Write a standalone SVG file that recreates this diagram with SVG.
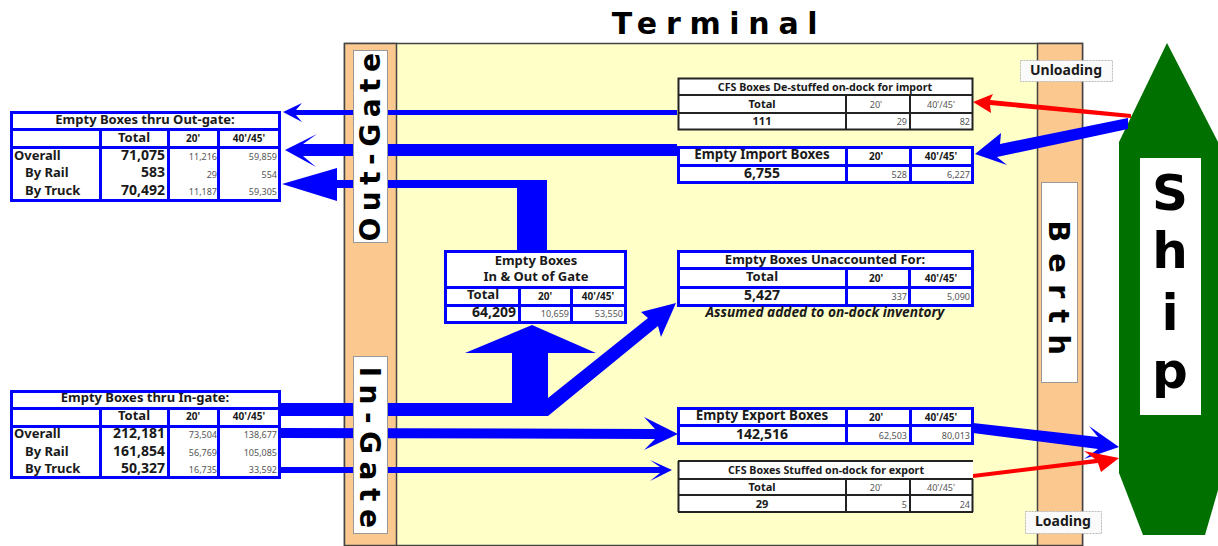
<svg xmlns="http://www.w3.org/2000/svg" width="1218" height="546" viewBox="0 0 1218 546">
<style>
text{font-family:"Noto Sans","DejaVu Sans",sans-serif;fill:#1a1a1a}
.b{font-weight:700}
.t{font-size:13px;font-weight:700;text-anchor:middle}
.big{font-size:14px;font-weight:700}
.tot{font-size:14px;font-weight:700;text-anchor:end}
.th{font-size:13px;font-weight:700;text-anchor:middle}
.nm{font-size:13.400px;font-weight:700;text-anchor:middle}
.cfs{font-size:10.700px;font-weight:700;text-anchor:middle}
.h{font-size:10px;font-weight:700;text-anchor:middle}
.cv{font-size:11px;font-weight:700;text-anchor:middle}
.s{font-size:9px;text-anchor:end;fill:#555}
.sm{font-size:9px;text-anchor:middle;fill:#555}
.l{font-size:13px;font-weight:700}
.r{text-anchor:end}
.m{text-anchor:middle}
.blue{fill:#fff;stroke:#0000ff;stroke-width:3}
.blk{fill:#fff;stroke:#222;stroke-width:2}
.gl{fill:none;stroke:#0000ff;stroke-width:3}
.kl{fill:none;stroke:#222;stroke-width:2}
.ar{fill:#0000ff}
.rd{fill:#ff0000}
.lab{fill:#fff;stroke:#999;stroke-width:1}
.tag{fill:#fafafa;stroke:#bbb;stroke-width:1;stroke-dasharray:2 1}
.gate{font-family:"DejaVu Sans",sans-serif;font-size:28px;font-weight:700;fill:#000;letter-spacing:6.500px;text-anchor:middle}
.ship{font-family:"DejaVu Sans",sans-serif;font-size:50px;font-weight:700;fill:#000;text-anchor:middle}
.ttl{font-family:"DejaVu Sans",sans-serif;font-size:30px;font-weight:700;letter-spacing:8.700px;text-anchor:middle;fill:#000}
</style>
<rect width="1218" height="546" fill="#fff"/>
<text x="719" y="34" class="ttl">Terminal</text>
<g id="terminal">
<rect x="344.500" y="43.500" width="738" height="502" fill="#ffffc8" stroke="#444" stroke-width="1.500"/>
<rect x="344.500" y="43.500" width="52" height="502" fill="#fbc98f" stroke="#444" stroke-width="1.500"/>
<rect x="1037.500" y="43.500" width="45" height="502" fill="#fbc98f" stroke="#444" stroke-width="1.500"/>
</g>
<g id="ship">
<polygon points="1167,43 1119,142 1119,473 1143,535 1205,535 1218,490 1218,142" fill="#007000"/>
<rect x="1140" y="158" width="61" height="257" fill="#fff"/>
<text x="1170" y="210" class="ship">S</text>
<text x="1170" y="268" class="ship">h</text>
<text x="1170" y="330" class="ship">i</text>
<text x="1170" y="388" class="ship">p</text>
</g>
<g id="connectors">
<polygon class="ar" points="283,112 302,103 296,110 677,110 677,115 296,115 302,122"/>
<polygon class="ar" points="285,150 317,134 303,144 677,144 677,156 303,156 316,167"/>
<polygon class="ar" points="282,184 337,168 337,180 547,180 547,252 517,252 517,188 337,188 337,201"/>
<polygon class="ar" points="280,403 512,403 512,353 465,353 532,325 596,353 548,353 548,398 648,318 641,312 676,303 661,337 658,326 548,416 280,416"/>
<polygon class="ar" points="280,428 655,429 644,417 678,434 644,450 655,439 280,438"/>
<polygon class="ar" points="280,467 660,467 650,460 672,470 650,481 660,473 280,473"/>
<polygon class="ar" points="1128,118 1128,129 997,157 1007,165 975,154 1001,133 1000,144"/>
<polygon class="rd" points="1131,114 1131,118 990,105 991,113 973,102 993,94 990,100"/>
<polygon class="ar" points="973,423 973,433 1098,449 1084,459 1119,447 1089,426 1098,437"/>
<polygon class="rd" points="973,474 973,478 1098,463 1101,472 1119,458 1084,451 1095,459"/>
</g>
<g id="out-gate-label"><rect class="lab" x="353.500" y="50.500" width="34" height="192"/><text transform="translate(380,144) rotate(-90)" class="gate">Out-Gate</text></g>
<g id="in-gate-label"><rect class="lab" x="353.500" y="356.500" width="34" height="177"/><text transform="translate(360,451) rotate(90)" class="gate" style="letter-spacing:7.500px">In-Gate</text></g>
<g id="berth"><rect class="lab" x="1041.500" y="182.500" width="36" height="200"/><text transform="translate(1049,293) rotate(90)" class="gate" style="letter-spacing:11px;font-size:29px">Berth</text></g>
<g id="unloading"><rect class="tag" x="1020.500" y="60.500" width="92" height="21"/><text x="1066" y="75" class="t" style="font-size:14px">Unloading</text></g>
<g id="loading"><rect class="tag" x="1025.500" y="511.500" width="76" height="22"/><text x="1063" y="526" class="t" style="font-size:14px">Loading</text></g>
<g id="out-gate-table">
<rect class="blue" x="11.500" y="112.500" width="268" height="88"/>
<path class="gl" d="M11 129.500H280M11 147.500H280M100.500 130V201M168.500 130V201M218.500 130V201"/>
<text x="145" y="124" class="t">Empty Boxes thru Out-gate:</text>
<text x="134" y="142" class="th">Total</text><text x="193" y="142" class="h">20'</text><text x="249" y="142" class="h">40'/45'</text>
<text x="14" y="160" class="l">Overall</text><text x="25" y="177" class="l">By Rail</text><text x="25" y="195" class="l">By Truck</text>
<text x="165" y="160" class="tot">71,075</text><text x="165" y="177" class="tot">583</text><text x="165" y="195" class="tot">70,492</text>
<text x="217" y="160" class="s">11,216</text><text x="217" y="178" class="s">29</text><text x="217" y="195" class="s">11,187</text>
<text x="277" y="160" class="s">59,859</text><text x="277" y="178" class="s">554</text><text x="277" y="195" class="s">59,305</text>
</g>
<g id="in-gate-table">
<rect class="blue" x="11.500" y="391.500" width="268" height="86"/>
<path class="gl" d="M11 408.500H280M11 426.500H280M100.500 409V478M168.500 409V478M218.500 409V478"/>
<text x="145" y="402" class="t">Empty Boxes thru In-gate:</text>
<text x="134" y="420" class="th">Total</text><text x="193" y="420" class="h">20'</text><text x="249" y="420" class="h">40'/45'</text>
<text x="14" y="438" class="l">Overall</text><text x="25" y="456" class="l">By Rail</text><text x="25" y="473" class="l">By Truck</text>
<text x="165" y="438" class="tot">212,181</text><text x="165" y="456" class="tot">161,854</text><text x="165" y="473" class="tot">50,327</text>
<text x="217" y="438" class="s">73,504</text><text x="217" y="456" class="s">56,769</text><text x="217" y="473" class="s">16,735</text>
<text x="277" y="438" class="s">138,677</text><text x="277" y="456" class="s">105,085</text><text x="277" y="473" class="s">33,592</text>
</g>
<g id="in-out-table">
<rect class="blue" x="445.500" y="251.500" width="180" height="71"/>
<path class="gl" d="M445 287.500H626M445 305.500H626M519.500 287V323M571.500 287V323"/>
<text x="536" y="265" class="t">Empty Boxes</text><text x="536" y="281" class="t">In &amp; Out of Gate</text>
<text x="483" y="299" class="th">Total</text><text x="545" y="300" class="h">20'</text><text x="598" y="300" class="h">40'/45'</text>
<text x="516" y="317" class="big r">64,209</text><text x="569" y="317" class="s">10,659</text><text x="623" y="317" class="s">53,550</text>
</g>
<g id="cfs-import-table">
<rect class="blk" x="678.500" y="78.500" width="294" height="51"/>
<path class="kl" d="M678 95H973M678 113H973M846 95V130M910 95V130"/>
<text x="825" y="91" class="cfs">CFS Boxes De-stuffed on-dock for import</text>
<text x="762" y="108" class="cv">Total</text><text x="876" y="108" class="sm">20'</text><text x="941" y="108" class="sm">40'/45'</text>
<text x="762" y="125" class="cv">111</text><text x="907" y="125" class="s">29</text><text x="970" y="125" class="s">82</text>
</g>
<g id="empty-import-table">
<rect class="blue" x="678.500" y="147.500" width="294" height="35"/>
<path class="gl" d="M678 165.500H973M846.500 147V183M910.500 147V183"/>
<text x="762" y="159" class="nm">Empty Import Boxes</text><text x="876" y="160" class="h">20'</text><text x="941" y="160" class="h">40'/45'</text>
<text x="762" y="178" class="big m">6,755</text><text x="907" y="178" class="s">528</text><text x="970" y="178" class="s">6,227</text>
</g>
<g id="unaccounted-table">
<rect class="blue" x="678.500" y="251.500" width="294" height="54"/>
<path class="gl" d="M678 268.500H973M678 287.500H973M846.500 268V306M909.500 268V306"/>
<text x="825" y="264" class="t">Empty Boxes Unaccounted For:</text>
<text x="762" y="281" class="th">Total</text><text x="876" y="282" class="h">20'</text><text x="941" y="282" class="h">40'/45'</text>
<text x="762" y="300" class="big m">5,427</text><text x="907" y="300" class="s">337</text><text x="970" y="300" class="s">5,090</text>
<text x="825" y="317" class="t" style="font-style:italic;font-size:13.700px">Assumed added to on-dock inventory</text>
</g>
<g id="empty-export-table">
<rect class="blue" x="678.500" y="408.500" width="294" height="35"/>
<path class="gl" d="M678 425.500H973M846.500 408V444M910.500 408V444"/>
<text x="762" y="420" class="nm">Empty Export Boxes</text><text x="876" y="421" class="h">20'</text><text x="941" y="421" class="h">40'/45'</text>
<text x="762" y="439" class="big m">142,516</text><text x="907" y="439" class="s">62,503</text><text x="970" y="439" class="s">80,013</text>
</g>
<g id="cfs-export-table">
<rect x="678" y="461" width="295" height="51" fill="#fff"/>
<path class="kl" d="M678 461H973M678 479H973M678 495H973M678 512H973M678.500 461V512M846 479V512M910 479V512M972.500 479V512"/>
<text x="826" y="474" class="cfs">CFS Boxes Stuffed on-dock for export</text>
<text x="762" y="491" class="cv">Total</text><text x="876" y="491" class="sm">20'</text><text x="941" y="491" class="sm">40'/45'</text>
<text x="762" y="508" class="cv">29</text><text x="907" y="508" class="s">5</text><text x="970" y="508" class="s">24</text>
</g>
</svg>
